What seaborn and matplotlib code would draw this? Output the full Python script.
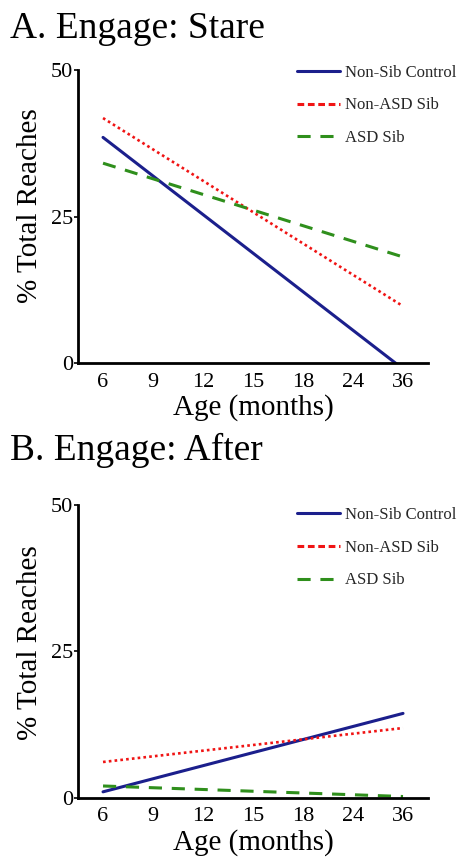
import pandas as pd
import matplotlib
matplotlib.use("Agg")
import matplotlib.pyplot as plt
import seaborn as sns

# ---- data (at the first and last age) ----
AGES = ["6", "9", "12", "15", "18", "24", "36"]
GROUPS = ["Non-Sib Control", "Non-ASD Sib", "ASD Sib"]
END_AGES = ["6", "36"]

stare_control = [38.5, -1.0]
stare_nonasd = [41.8, 9.7]
stare_asd = [34.1, 18.1]

after_control = [1.0, 14.4]
after_nonasd = [6.1, 11.9]
after_asd = [2.0, 0.2]

Y_TICKS = [0, 25, 50]
COLORS = {"Non-Sib Control": "#1b1f8c", "Non-ASD Sib": "#f01414", "ASD Sib": "#2f8f1c"}
STYLES = {"Non-Sib Control": "", "Non-ASD Sib": (1, 1.2), "ASD Sib": (4.3, 3.2)}


def make_df(control, nonasd, asd):
    rows = []
    for grp, vals in zip(GROUPS, [control, nonasd, asd]):
        for age, v in zip(END_AGES, vals):
            rows.append({"group": grp, "pos": AGES.index(age), "value": v})
    return pd.DataFrame(rows)


sns.set_theme(style="white")
plt.rcParams["font.family"] = ["Liberation Serif", "DejaVu Serif"]

fig = plt.figure(figsize=(4.59, 8.58), dpi=100)
ax_a = fig.add_axes([0.170, 0.5769, 0.7625, 0.3415])
ax_b = fig.add_axes([0.170, 0.0703, 0.7625, 0.3411])

panels = [
    (ax_a, make_df(stare_control, stare_nonasd, stare_asd), "A. Engage: Stare", 1 - 38 / 858, 1.018, 0.536),
    (ax_b, make_df(after_control, after_nonasd, after_asd), "B. Engage: After", 1 - 460 / 858, 0.993, 0.53),
]

for ax, df, title, ty, leg_y, ylab_y in panels:
    sns.lineplot(data=df, x="pos", y="value", hue="group", style="group",
                 hue_order=GROUPS, style_order=GROUPS,
                 palette=COLORS, dashes=STYLES, linewidth=2.2, ax=ax)
    for ln in ax.get_lines():
        if ln.get_color() == COLORS["Non-ASD Sib"]:
            ln.set_linewidth(1.9)

    ax.set_xlim(-0.5, 6.5)
    ax.set_ylim(0, 50)
    ax.set_xticks(range(len(AGES)))
    ax.set_xticklabels(AGES)
    ax.set_yticks(Y_TICKS)
    ax.set_yticklabels([str(t) for t in Y_TICKS])
    ax.tick_params(axis="x", length=0, pad=7, labelsize=16, colors="black")
    ax.tick_params(axis="y", length=3, width=1.2, pad=0.5, labelsize=16, colors="black", left=True)
    ax.set_xlabel("Age (months)", fontsize=21, labelpad=2, color="black")
    ax.set_ylabel("% Total Reaches", fontsize=21, color="black")
    ax.yaxis.set_label_coords(-0.1, ylab_y)
    sns.despine(ax=ax)
    for s in ["left", "bottom"]:
        ax.spines[s].set_color("black")
        ax.spines[s].set_linewidth(2.0)
        ax.spines[s].set_zorder(5)

    leg = ax.legend(loc="upper left", bbox_to_anchor=(0.626, leg_y), frameon=False,
                    fontsize=12, handlelength=2.6, handletextpad=0.25,
                    labelspacing=1.0, borderaxespad=0, borderpad=0)
    for h in leg.get_lines():
        if h.get_color() == COLORS["Non-ASD Sib"]:
            h.set_dashes((2.2, 1.2))
            h.set_linewidth(2.2)

    fig.text(10 / 459, ty, title, fontsize=27, va="baseline", ha="left", color="black")

fig.savefig("out.png", dpi=100)
